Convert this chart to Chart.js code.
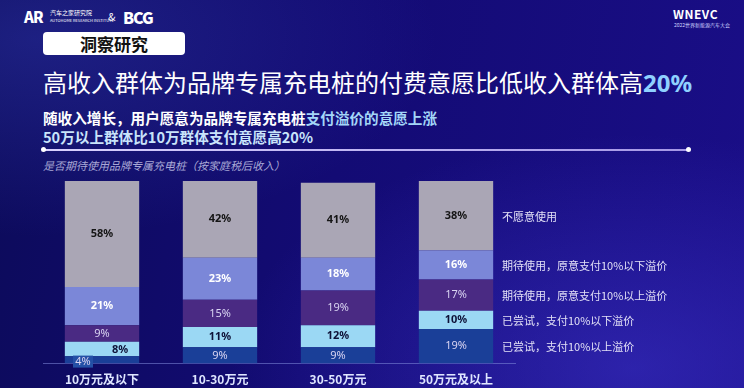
<!DOCTYPE html>
<html>
<head>
<meta charset="utf-8">
<script src="https://cdn.jsdelivr.net/npm/chart.js@4"></script>
<style>
  html, body { margin: 0; padding: 0; }
  body {
    width: 744px; height: 388px; overflow: hidden; position: relative;
    font-family: "Noto Sans CJK SC", "Noto Sans", sans-serif;
    background:
      radial-gradient(ellipse at 85% 95%, rgba(70,60,220,0.45) 0%, rgba(70,60,220,0) 45%),
      radial-gradient(ellipse at 5% 10%, rgba(60,70,200,0.35) 0%, rgba(60,70,200,0) 40%),
      linear-gradient(100deg, #0c0b5a 0%, #130b74 45%, #1a0e88 100%);
  }
  .abs { position: absolute; white-space: nowrap; }
  #logo { left: 24px; top: 6px; color: #fff; font-size: 15px; font-weight: 900; letter-spacing: -1px; }
  #logoSub { left: 50px; top: 9px; color: #fff; font-size: 6px; line-height: 7px; }
  #amp { left: 108px; top: 8px; color: #fff; font-size: 11px; }
  #bcg { left: 123px; top: 5px; color: #fff; font-size: 16px; font-weight: 900; letter-spacing: -1px; }
  #wnevc { left: 673px; top: 5px; color: #fff; font-size: 12px; font-weight: 700; letter-spacing: 0.5px; }
  #wnevcSub { left: 674px; top: 21px; color: #d0d4ff; font-size: 5px; }
  #tag { left: 43px; top: 32px; width: 142px; height: 23px; background: #fff; border-radius: 4px;
         color: #111; font-size: 17px; font-weight: 700; text-align: center; line-height: 23px; }
  #title { left: 43px; top: 65px; color: #fff; font-size: 24px; line-height: 34px; }
  #title b { color: #8fd0ff; font-family: "Noto Sans", sans-serif; }
  #sub1 { left: 43px; top: 108px; color: #fff; font-size: 14.6px; font-weight: 700; line-height: 20px; }
  #sub1 span { color: #a3d6f8; }
  #sub2 { left: 43px; top: 127px; color: #c9e4fb; font-size: 14.6px; font-weight: 700; line-height: 20px; }
  #rule { left: 43px; top: 149px; width: 645px; height: 2px; background: linear-gradient(90deg, #d9d2ff, #a597e6); }
  .dot { top: 147px; width: 5px; height: 5px; border-radius: 50%; background: #fff; }
  #note { left: 43px; top: 157px; color: #a9a8d6; font-size: 11px; font-style: italic; line-height: 16px; }
  #box { position: absolute; left: 0; top: 170px; width: 744px; height: 220px; }
</style>
</head>
<body>
<div class="abs" id="logo">AR</div>
<div class="abs" id="logoSub">汽车之家研究院<br><span style="font-size:4px">AUTOHOME RESEARCH INSTITUTE</span></div>
<div class="abs" id="amp">&amp;</div>
<div class="abs" id="bcg">BCG</div>
<div class="abs" id="wnevc">WNEVC</div>
<div class="abs" id="wnevcSub">2022世界新能源汽车大会</div>
<div class="abs" id="tag">洞察研究</div>
<div class="abs" id="title">高收入群体为品牌专属充电桩的付费意愿比低收入群体高<b>20%</b></div>
<div class="abs" id="sub1">随收入增长，用户愿意为品牌专属充电桩<span>支付溢价的意愿上涨</span></div>
<div class="abs" id="sub2">50万以上群体比10万群体支付意愿高20%</div>
<div class="abs" id="rule"></div>
<div class="abs dot" style="left:41px"></div>
<div class="abs dot" style="left:686px"></div>
<div class="abs" id="note">是否期待使用品牌专属充电桩（按家庭税后收入）</div>
<div id="box"><canvas id="chart"></canvas></div>

<script>
// income groups
const categories = ['10万元及以下', '10-30万元', '30-50万元', '50万元及以上'];

// series, stacked bottom to top (%)
const seriesNames = [
  '已尝试，支付10%以上溢价',
  '已尝试，支付10%以下溢价',
  '期待使用，原意支付10%以上溢价',
  '期待使用，原意支付10%以下溢价',
  '不愿意使用'
];
const triedAbove = [4, 9, 9, 19];
const triedBelow = [8, 11, 12, 10];
const expectAbove = [9, 15, 19, 17];
const expectBelow = [21, 23, 18, 16];
const unwilling = [58, 42, 41, 38];

const colors = ['#1a3f98', '#9bd8f4', '#4a2a83', '#7b87d8', '#aaa6b5'];
const labelColors = ['#d9d4f2', '#0e1238', '#d9d4f2', '#ffffff', '#151515'];
const labelBold = [false, true, false, true, true];

const seriesValues = [triedAbove, triedBelow, expectAbove, expectBelow, unwilling];

const segmentLabels = {
  id: 'segmentLabels',
  afterDatasetsDraw(chart) {
    const ctx = chart.ctx;
    ctx.save();
    ctx.textAlign = 'center';
    ctx.textBaseline = 'middle';
    chart.data.datasets.forEach((ds, di) => {
      const meta = chart.getDatasetMeta(di);
      meta.data.forEach((bar, i) => {
        const v = ds.data[i];
        const cy = (bar.y + bar.base) / 2;
        let x = bar.x;
        let y = cy;
        ctx.font = (labelBold[di] ? 'bold ' : '') + '11px "Noto Sans", sans-serif';
        ctx.fillStyle = labelColors[di];
        if (di === 0 && v < 6) {
          // too thin: boxed label hanging at the bottom left
          x = bar.x - 19;
          y = bar.base - 2;
          ctx.fillStyle = '#2450a6';
          ctx.fillRect(x - 10, y - 6, 20, 12);
          ctx.fillStyle = labelColors[0];
        } else if (di === 1 && chart.data.datasets[0].data[i] < 6) {
          x = bar.x + 18;
          y = cy + 1;
        }
        ctx.fillText(v + '%', x, y);
      });
    });
    // series names next to the last bar
    const last = chart.data.labels.length - 1;
    ctx.textAlign = 'left';
    ctx.font = '11px "Noto Sans CJK SC", sans-serif';
    ctx.fillStyle = '#e2e0f6';
    chart.data.datasets.forEach((ds, di) => {
      const bar = chart.getDatasetMeta(di).data[last];
      ctx.fillText(ds.label, bar.x + 46, (bar.y + bar.base) / 2 + 1);
    });
    ctx.restore();
  }
};

new Chart(document.getElementById('chart'), {
  type: 'bar',
  data: {
    labels: categories,
    datasets: seriesValues.map((vals, k) => ({
      label: seriesNames[k],
      data: vals,
      backgroundColor: colors[k],
      borderWidth: 0,
      barPercentage: 0.63,
      categoryPercentage: 1
    }))
  },
  options: {
    responsive: true,
    maintainAspectRatio: false,
    animation: false,
    layout: { padding: { left: 43, right: 229, top: 11, bottom: 2 } },
    plugins: { legend: { display: false }, tooltip: { enabled: false } },
    scales: {
      x: {
        stacked: true,
        grid: { display: false },
        border: { display: true, color: 'rgba(130,140,220,0.55)', width: 1 },
        ticks: {
          color: '#dfe6ff',
          padding: 1,
          font: { size: 12, weight: 'bold', family: '"Noto Sans CJK SC", sans-serif' }
        }
      },
      y: { stacked: true, display: false, min: 0, max: 100 }
    }
  },
  plugins: [segmentLabels]
});
</script>
</body>
</html>
